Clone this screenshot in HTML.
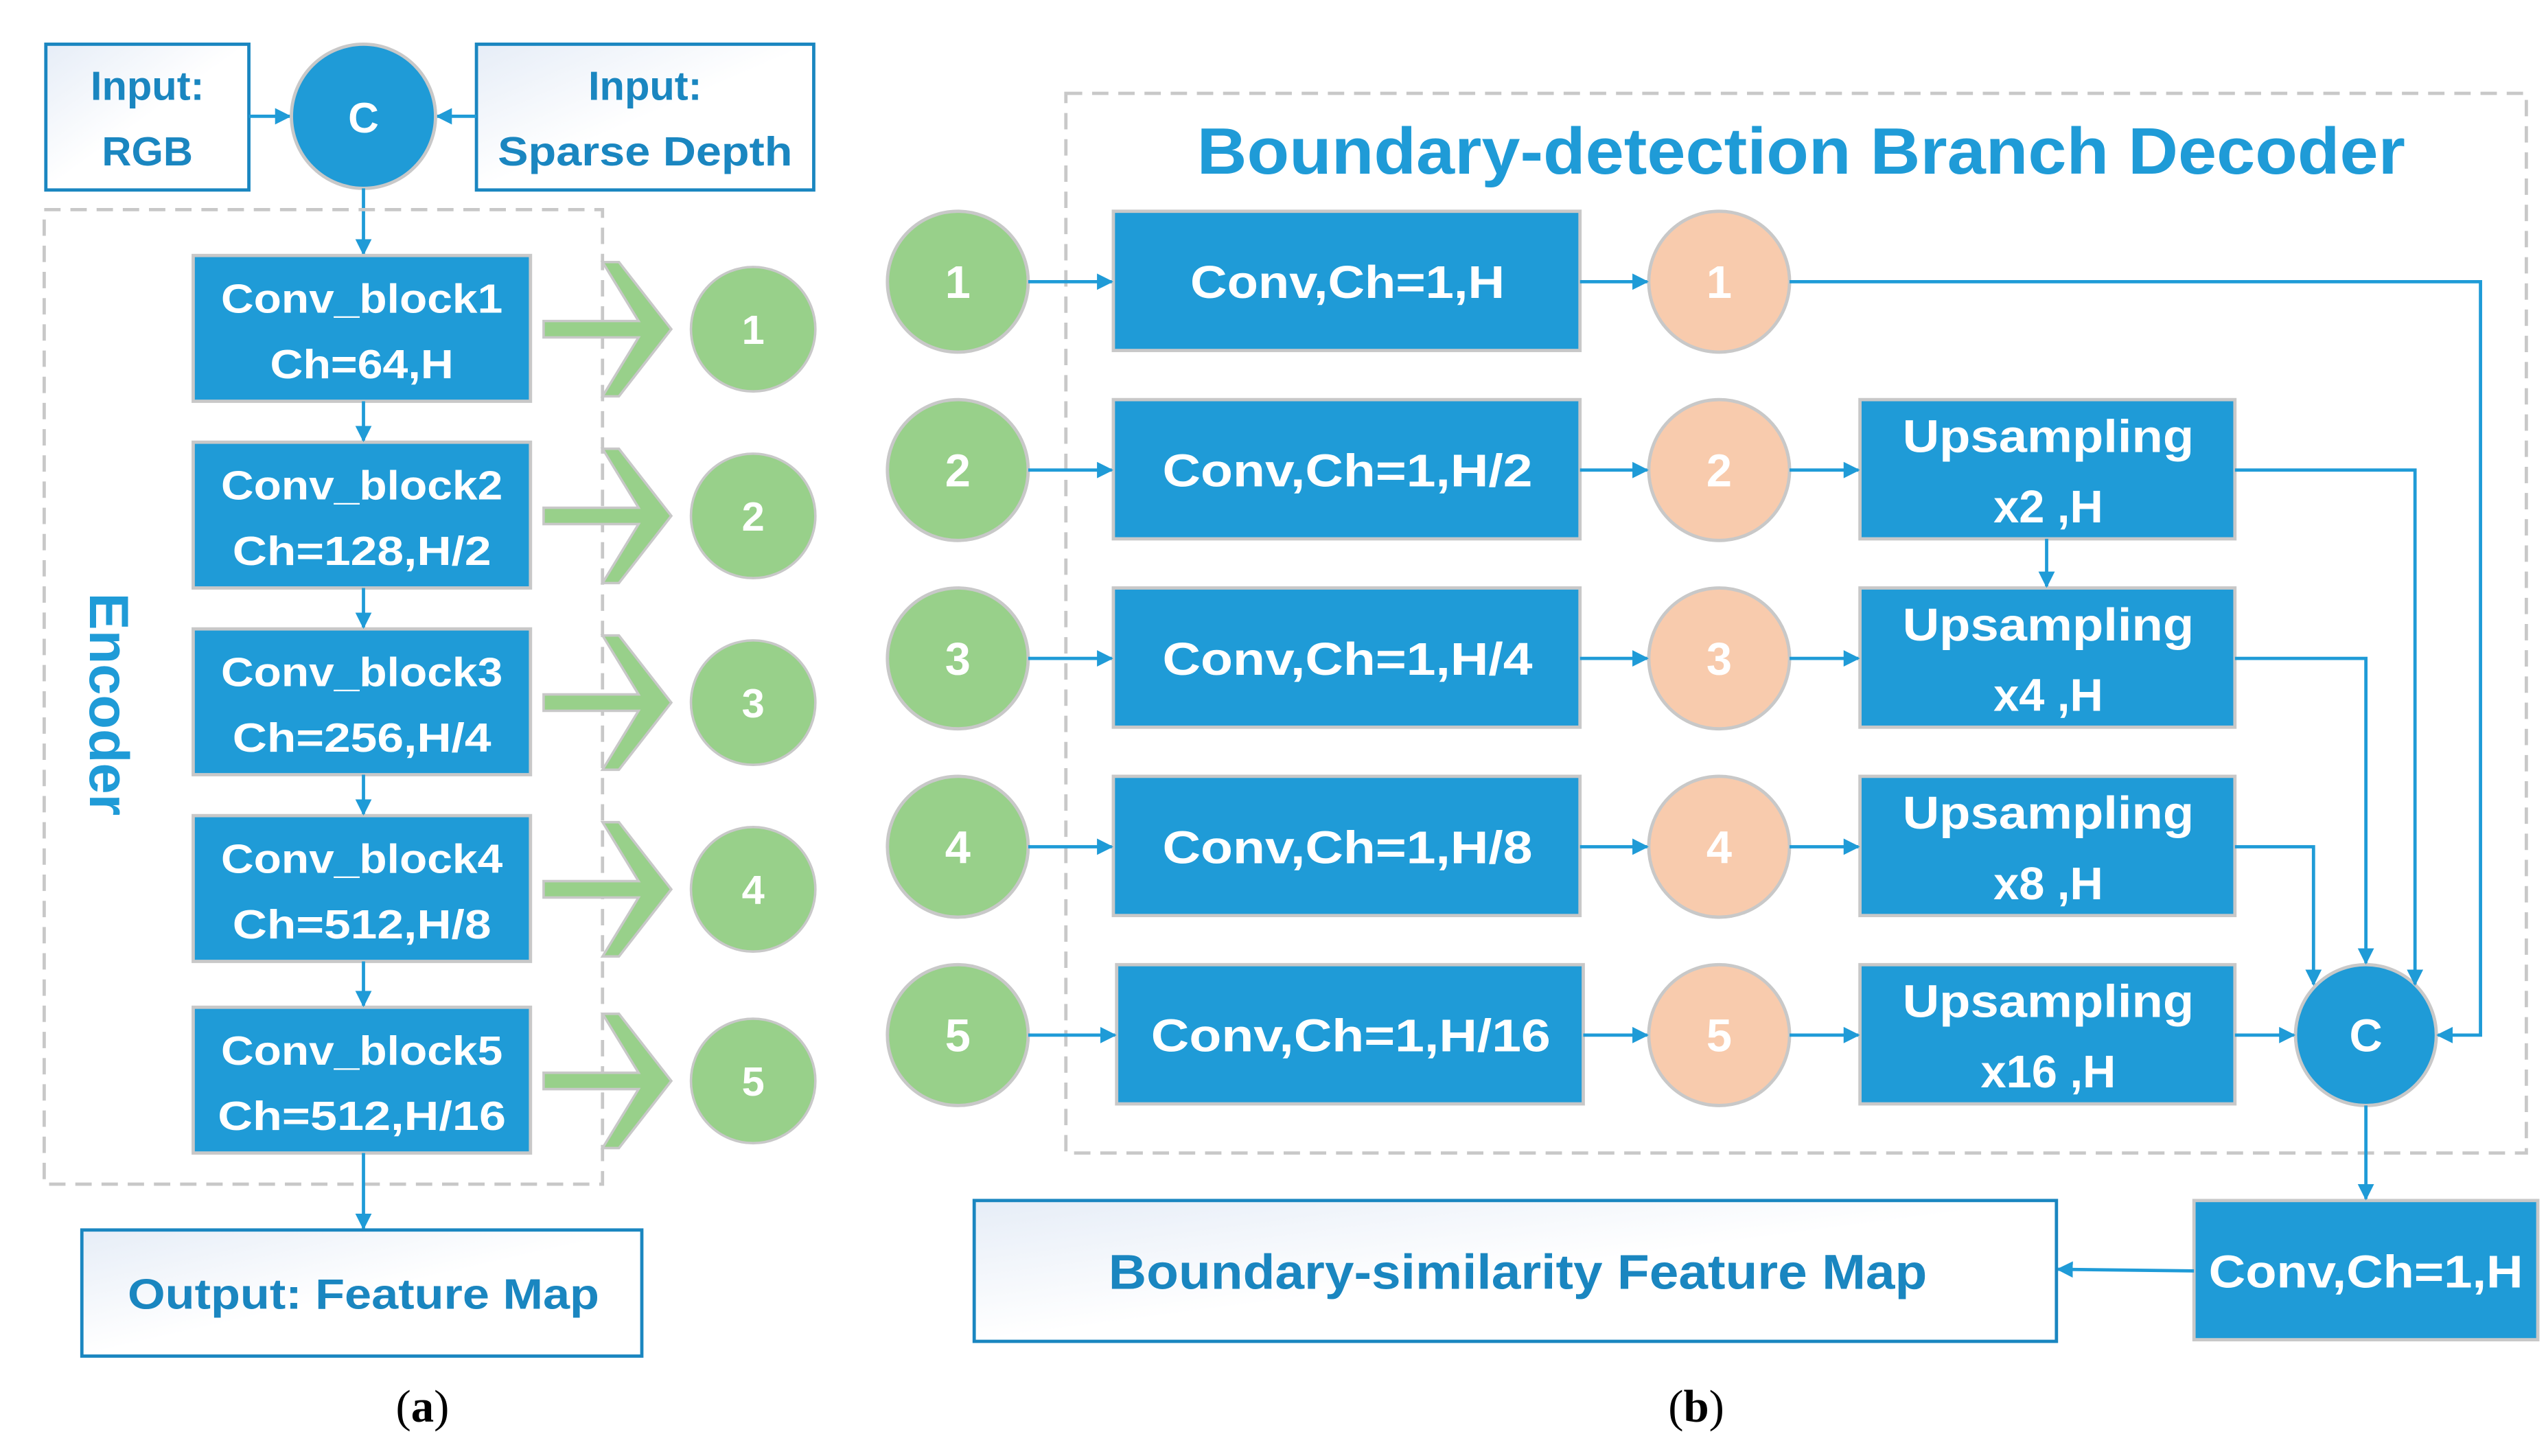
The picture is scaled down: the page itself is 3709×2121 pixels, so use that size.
<!DOCTYPE html>
<html><head><meta charset="utf-8"><style>
html,body{margin:0;padding:0;background:#fff;}
svg{display:block;}
text{font-family:"Liberation Sans",sans-serif;font-weight:bold;}
</style></head><body>
<svg width="3709" height="2121" viewBox="0 0 1555 889" preserveAspectRatio="none" xmlns="http://www.w3.org/2000/svg">
<defs>
<linearGradient id="g" x1="0" y1="0" x2="1" y2="1"><stop offset="0" stop-color="#e6edf7"/><stop offset="0.5" stop-color="#fff"/></linearGradient>
<marker id="a" markerWidth="10" markerHeight="10" refX="9" refY="5" orient="auto" markerUnits="userSpaceOnUse"><path d="M0,0 L10,5 L0,10 Z" fill="#1f9bd7"/></marker>
</defs>
<g font-size="26" text-anchor="middle">
<!-- inputs -->
<rect x="28" y="27" width="124" height="89" fill="url(#g)" stroke="#1a86c0" stroke-width="2"/>
<text x="90" y="61" fill="#1a86c0" font-size="25">Input:</text>
<text x="90" y="101" fill="#1a86c0" font-size="25">RGB</text>
<rect x="291" y="27" width="206" height="89" fill="url(#g)" stroke="#1a86c0" stroke-width="2"/>
<text x="394" y="61" fill="#1a86c0" font-size="25">Input:</text>
<text x="394" y="101" fill="#1a86c0" font-size="25" textLength="180" lengthAdjust="spacingAndGlyphs">Sparse Depth</text>
<line x1="152" y1="71" x2="177" y2="71" stroke="#1f9bd7" stroke-width="2" marker-end="url(#a)"/>
<line x1="291" y1="71" x2="267" y2="71" stroke="#1f9bd7" stroke-width="2" marker-end="url(#a)"/>
<circle cx="222" cy="71" r="44" fill="#1f9bd7" stroke="#c8c8c8" stroke-width="2"/>
<text x="222" y="81" fill="#fff" font-size="26">C</text>
<line x1="222" y1="115" x2="222" y2="155" stroke="#1f9bd7" stroke-width="2" marker-end="url(#a)"/>
<!-- encoder -->
<rect x="27" y="128" width="341" height="595" fill="none" stroke="#c8c8c8" stroke-width="2" stroke-dasharray="10,6"/>
<text transform="translate(55,430) rotate(90)" fill="#1f9bd7" font-size="34">Encoder</text>
<g fill="#1f9bd7" stroke="#c8c8c8" stroke-width="2">
<rect x="118" y="156" width="206" height="89"/><rect x="118" y="270" width="206" height="89"/>
<rect x="118" y="384" width="206" height="89"/><rect x="118" y="498" width="206" height="89"/>
<rect x="118" y="615" width="206" height="89"/>
</g>
<g stroke="#1f9bd7" stroke-width="2">
<line x1="222" y1="245" x2="222" y2="269" marker-end="url(#a)"/>
<line x1="222" y1="359" x2="222" y2="383" marker-end="url(#a)"/>
<line x1="222" y1="473" x2="222" y2="497" marker-end="url(#a)"/>
<line x1="222" y1="587" x2="222" y2="614" marker-end="url(#a)"/>
<line x1="222" y1="704" x2="222" y2="750" marker-end="url(#a)"/>
</g>
<g fill="#fff" font-size="25">
<text x="221" y="191" textLength="172" lengthAdjust="spacingAndGlyphs">Conv_block1</text><text x="221" y="231" textLength="112" lengthAdjust="spacingAndGlyphs">Ch=64,H</text>
<text x="221" y="305" textLength="172" lengthAdjust="spacingAndGlyphs">Conv_block2</text><text x="221" y="345" textLength="158" lengthAdjust="spacingAndGlyphs">Ch=128,H/2</text>
<text x="221" y="419" textLength="172" lengthAdjust="spacingAndGlyphs">Conv_block3</text><text x="221" y="459" textLength="158" lengthAdjust="spacingAndGlyphs">Ch=256,H/4</text>
<text x="221" y="533" textLength="172" lengthAdjust="spacingAndGlyphs">Conv_block4</text><text x="221" y="573" textLength="158" lengthAdjust="spacingAndGlyphs">Ch=512,H/8</text>
<text x="221" y="650" textLength="172" lengthAdjust="spacingAndGlyphs">Conv_block5</text><text x="221" y="690" textLength="176" lengthAdjust="spacingAndGlyphs">Ch=512,H/16</text>
</g>
<!-- green arrows & circles -->
<g fill="#98d08a" stroke="#c8c8c8" stroke-width="1.5">
<path d="M332,196 L390,196 L368,160 L378,160 L410,201 L378,242 L368,242 L390,206 L332,206 Z"/>
<path transform="translate(0,114)" d="M332,196 L390,196 L368,160 L378,160 L410,201 L378,242 L368,242 L390,206 L332,206 Z"/>
<path transform="translate(0,228)" d="M332,196 L390,196 L368,160 L378,160 L410,201 L378,242 L368,242 L390,206 L332,206 Z"/>
<path transform="translate(0,342)" d="M332,196 L390,196 L368,160 L378,160 L410,201 L378,242 L368,242 L390,206 L332,206 Z"/>
<path transform="translate(0,459)" d="M332,196 L390,196 L368,160 L378,160 L410,201 L378,242 L368,242 L390,206 L332,206 Z"/>
<circle cx="460" cy="201" r="38"/><circle cx="460" cy="315" r="38"/><circle cx="460" cy="429" r="38"/><circle cx="460" cy="543" r="38"/><circle cx="460" cy="660" r="38"/>
</g>
<g fill="#fff" font-size="25">
<text x="460" y="210">1</text><text x="460" y="324">2</text><text x="460" y="438">3</text><text x="460" y="552">4</text><text x="460" y="669">5</text>
</g>
<rect x="50" y="751" width="342" height="77" fill="url(#g)" stroke="#1a86c0" stroke-width="2"/>
<text x="222" y="799" fill="#1a86c0" font-size="26" textLength="288" lengthAdjust="spacingAndGlyphs">Output: Feature Map</text>
<text x="258" y="868" fill="#000" font-family="Liberation Serif" font-weight="normal" font-size="28" style="font-family:'Liberation Serif',serif;font-weight:normal">(<tspan font-weight="bold" style="font-weight:bold">a</tspan>)</text>
<text x="1036" y="868" fill="#000" font-size="28" style="font-family:'Liberation Serif',serif;font-weight:normal">(<tspan style="font-weight:bold">b</tspan>)</text>

<!-- decoder -->
<rect x="651" y="57" width="892" height="647" fill="none" stroke="#c8c8c8" stroke-width="2" stroke-dasharray="10,6"/>
<text x="1100" y="106" fill="#1f9bd7" font-size="40" textLength="738" lengthAdjust="spacingAndGlyphs">Boundary-detection Branch Decoder</text>
<g fill="#98d08a" stroke="#c8c8c8" stroke-width="2">
<circle cx="585" cy="172" r="43"/><circle cx="585" cy="287" r="43"/><circle cx="585" cy="402" r="43"/><circle cx="585" cy="517" r="43"/><circle cx="585" cy="632" r="43"/>
</g>
<g fill="#f8cbad" stroke="#c8c8c8" stroke-width="2">
<circle cx="1050" cy="172" r="43"/><circle cx="1050" cy="287" r="43"/><circle cx="1050" cy="402" r="43"/><circle cx="1050" cy="517" r="43"/><circle cx="1050" cy="632" r="43"/>
</g>
<g fill="#1f9bd7" stroke="#c8c8c8" stroke-width="2">
<rect x="680" y="129" width="285" height="85"/><rect x="680" y="244" width="285" height="85"/><rect x="680" y="359" width="285" height="85"/><rect x="680" y="474" width="285" height="85"/><rect x="682" y="589" width="285" height="85"/>
<rect x="1136" y="244" width="229" height="85"/><rect x="1136" y="359" width="229" height="85"/><rect x="1136" y="474" width="229" height="85"/><rect x="1136" y="589" width="229" height="85"/>
<circle cx="1445" cy="632" r="43"/>
<rect x="1340" y="733" width="210" height="85"/>
</g>
<g fill="#fff" font-size="28">
<text x="585" y="182">1</text><text x="585" y="297">2</text><text x="585" y="412">3</text><text x="585" y="527">4</text><text x="585" y="642">5</text>
<text x="1050" y="182">1</text><text x="1050" y="297">2</text><text x="1050" y="412">3</text><text x="1050" y="527">4</text><text x="1050" y="642">5</text>
<text x="823" y="182" textLength="192" lengthAdjust="spacingAndGlyphs">Conv,Ch=1,H</text>
<text x="823" y="297" textLength="226" lengthAdjust="spacingAndGlyphs">Conv,Ch=1,H/2</text>
<text x="823" y="412" textLength="226" lengthAdjust="spacingAndGlyphs">Conv,Ch=1,H/4</text>
<text x="823" y="527" textLength="226" lengthAdjust="spacingAndGlyphs">Conv,Ch=1,H/8</text>
<text x="825" y="642" textLength="244" lengthAdjust="spacingAndGlyphs">Conv,Ch=1,H/16</text>
<text x="1251" y="276" textLength="178" lengthAdjust="spacingAndGlyphs">Upsampling</text><text x="1251" y="319">x2 ,H</text>
<text x="1251" y="391" textLength="178" lengthAdjust="spacingAndGlyphs">Upsampling</text><text x="1251" y="434">x4 ,H</text>
<text x="1251" y="506" textLength="178" lengthAdjust="spacingAndGlyphs">Upsampling</text><text x="1251" y="549">x8 ,H</text>
<text x="1251" y="621" textLength="178" lengthAdjust="spacingAndGlyphs">Upsampling</text><text x="1251" y="664">x16 ,H</text>
<text x="1445" y="642">C</text>
<text x="1445" y="786" textLength="192" lengthAdjust="spacingAndGlyphs">Conv,Ch=1,H</text>
</g>
<g stroke="#1f9bd7" stroke-width="2" fill="none">
<line x1="628" y1="172" x2="679" y2="172" marker-end="url(#a)"/>
<line x1="628" y1="287" x2="679" y2="287" marker-end="url(#a)"/>
<line x1="628" y1="402" x2="679" y2="402" marker-end="url(#a)"/>
<line x1="628" y1="517" x2="679" y2="517" marker-end="url(#a)"/>
<line x1="628" y1="632" x2="681" y2="632" marker-end="url(#a)"/>
<line x1="965" y1="172" x2="1006" y2="172" marker-end="url(#a)"/>
<line x1="965" y1="287" x2="1006" y2="287" marker-end="url(#a)"/>
<line x1="965" y1="402" x2="1006" y2="402" marker-end="url(#a)"/>
<line x1="965" y1="517" x2="1006" y2="517" marker-end="url(#a)"/>
<line x1="967" y1="632" x2="1006" y2="632" marker-end="url(#a)"/>
<line x1="1093" y1="287" x2="1135" y2="287" marker-end="url(#a)"/>
<line x1="1093" y1="402" x2="1135" y2="402" marker-end="url(#a)"/>
<line x1="1093" y1="517" x2="1135" y2="517" marker-end="url(#a)"/>
<line x1="1093" y1="632" x2="1135" y2="632" marker-end="url(#a)"/>
<line x1="1250" y1="329" x2="1250" y2="358" marker-end="url(#a)"/>
<line x1="1365" y1="632" x2="1401" y2="632" marker-end="url(#a)"/>
<polyline points="1093,172 1515,172 1515,632 1489,632" marker-end="url(#a)"/>
<polyline points="1365,287 1475,287 1475,601" marker-end="url(#a)"/>
<polyline points="1365,402 1445,402 1445,588" marker-end="url(#a)"/>
<polyline points="1365,517 1413,517 1413,601" marker-end="url(#a)"/>
<line x1="1445" y1="675" x2="1445" y2="732" marker-end="url(#a)"/>
<line x1="1340" y1="776" x2="1257" y2="775" marker-end="url(#a)"/>
</g>
<rect x="595" y="733" width="661" height="86" fill="url(#g)" stroke="#1a86c0" stroke-width="2"/>
<text x="927" y="787" fill="#1a86c0" font-size="30" textLength="500" lengthAdjust="spacingAndGlyphs">Boundary-similarity Feature Map</text>
</g>
</svg>
</body></html>
